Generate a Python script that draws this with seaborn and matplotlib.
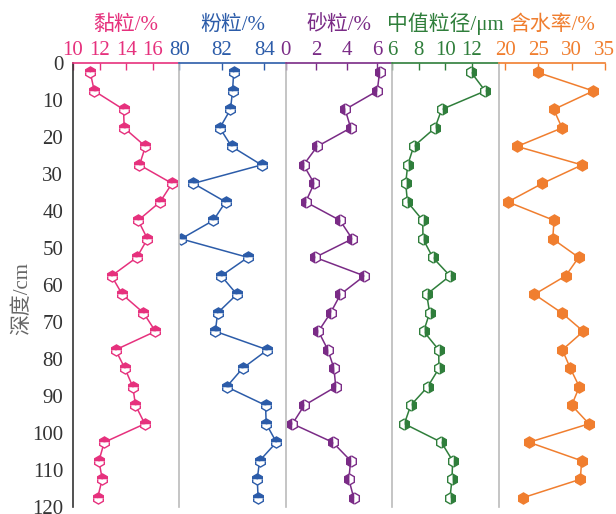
import numpy as np
import pandas as pd
import matplotlib
matplotlib.use("Agg")
import matplotlib.pyplot as plt
import seaborn as sns

# Sampling depths (cm), mid-points of 5 cm intervals
depth = [2.5, 7.5, 12.5, 17.5, 22.5, 27.5, 32.5, 37.5, 42.5, 47.5, 52.5, 57.5,
         62.5, 67.5, 72.5, 77.5, 82.5, 87.5, 92.5, 97.5, 102.5, 107.5, 112.5, 117.5]

clay = [11.3, 11.6, 13.8, 13.85, 15.45, 15.0, 17.45, 16.55, 14.9, 15.6, 14.8, 12.9,
        13.7, 15.3, 16.2, 13.2, 13.9, 14.5, 14.7, 15.4, 12.35, 11.95, 12.2, 11.85]
silt = [82.55, 82.5, 82.4, 81.9, 82.45, 83.86, 80.66, 82.17, 81.6, 80.08, 83.22, 81.97,
        82.7, 81.8, 81.69, 84.14, 82.97, 82.22, 84.05, 84.08, 84.56, 83.77, 83.66, 83.7]
sand = [6.17, 6.02, 3.91, 4.27, 2.07, 1.17, 1.87, 1.31, 3.57, 4.37, 1.93, 5.17,
        3.6, 2.95, 2.15, 2.77, 3.17, 3.29, 1.22, 0.44, 3.09, 4.27, 4.15, 4.47]
median = [11.95, 13.0, 9.72, 9.22, 7.62, 7.17, 7.02, 7.15, 8.3, 8.32, 9.05, 10.35,
          8.6, 8.82, 8.37, 9.5, 9.52, 8.67, 7.4, 6.92, 9.7, 10.55, 10.5, 10.35]
water = [24.9, 33.25, 27.3, 28.55, 21.8, 31.55, 25.6, 20.4, 27.35, 27.15, 31.05, 29.1,
         24.4, 28.5, 31.75, 28.6, 29.8, 31.15, 30.0, 32.6, 23.6, 31.5, 31.3, 22.65]

titles = ["黏粒/%", "粉粒/%", "砂粒/%", "中值粒径/μm", "含水率/%"]
xlims = [(10, 18), (80, 85), (0, 7), (6, 14), (19, 35)]
xticks = [[10, 12, 14, 16], [80, 82, 84], [0, 2, 4, 6], [6, 8, 10, 12], [20, 25, 30, 35]]
colors = ["#E6317D", "#2C5CA9", "#7A2B86", "#2F7E3B", "#F07E2F"]
fills = ["top", "top", "left", "right", "full"]

df = pd.DataFrame({"depth": depth, "clay": clay, "silt": silt, "sand": sand,
                   "median": median, "water": water})
columns = ["clay", "silt", "sand", "median", "water"]

sns.set_style("white")
plt.rcParams["font.family"] = ["Liberation Serif", "Noto Sans CJK SC"]

fig, axes = plt.subplots(1, 5, figsize=(6.16, 5.14), dpi=100, sharey=True)
fig.subplots_adjust(left=0.1185, right=0.982, top=0.877, bottom=0.0136, wspace=0)

for i, ax in enumerate(axes):
    c = colors[i]
    sns.lineplot(data=df, x=columns[i], y="depth", orient="y", sort=False, ax=ax,
                 color=c, lw=1.1, marker="h", markersize=8,
                 fillstyle=fills[i], markerfacecolor=c, markerfacecoloralt="white",
                 markeredgecolor=c, markeredgewidth=1.0)
    ax.set_xlim(*xlims[i])
    ax.set_xticks(xticks[i])
    ax.xaxis.tick_top()
    ax.xaxis.set_label_position("top")
    ax.set_xlabel(titles[i], color=c, fontsize=15, labelpad=8)
    ax.tick_params(axis="x", direction="in", length=5, width=1, color=c,
                   labelcolor=c, labelsize=15, pad=2)
    ax.spines["top"].set_color(c)
    ax.spines["top"].set_linewidth(1.2)
    ax.spines["right"].set_visible(False)
    ax.spines["bottom"].set_visible(False)
    if i == 0:
        ax.spines["left"].set_color("#333333")
        ax.spines["left"].set_linewidth(1.2)
        ax.tick_params(axis="y", direction="out", length=5, width=1,
                       color="#333333", labelcolor="#333333", labelsize=15, pad=2)
    else:
        ax.spines["left"].set_color("#BBBBBB")
        ax.spines["left"].set_linewidth(1.2)
        ax.tick_params(axis="y", left=False)

axes[0].set_ylim(120, 0)
axes[0].set_yticks(np.arange(0, 121, 10))
axes[0].set_ylabel("深度/cm", color="#666666", fontsize=15)
axes[0].yaxis.set_label_coords(-0.38, 0.47)

fig.savefig("out.png", dpi=100)
